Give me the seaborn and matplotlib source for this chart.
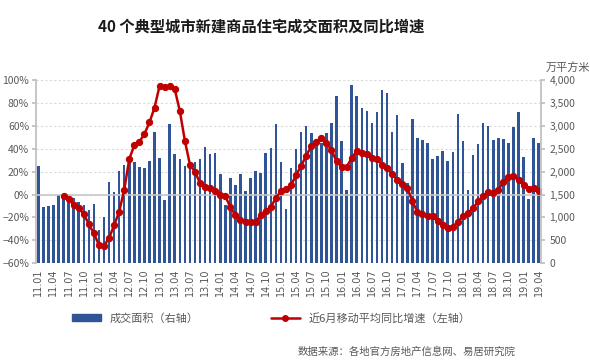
import matplotlib.pyplot as plt
import matplotlib.ticker as mticker
from matplotlib.lines import Line2D
from matplotlib.patches import Patch
import pandas as pd
import seaborn as sns

# 月份 2011.01 - 2019.04
months = [f"{y:02d}.{m:02d}" for y in range(11, 20) for m in range(1, 13)][:100]

# 成交面积（万平方米，右轴）
area = [2125, 1225, 1240, 1275, 1500, 1490, 1430, 1420, 1330, 1272,
        1163, 1287, 720, 1018, 1767, 1549, 2021, 2150, 2200, 2200,
        2110, 2090, 2232, 2872, 2290, 1381, 3039, 2377, 2280, 2123,
        2196, 2200, 2270, 2530, 2377, 2414, 1941, 1272, 1850, 1700,
        1948, 1585, 1854, 2005, 1970, 2414, 2508, 3032, 2217, 1190,
        2087, 2486, 2857, 2995, 2850, 2704, 2617, 2835, 3068, 3657,
        2668, 1600, 3889, 3657, 3395, 3325, 3053, 3293, 3780, 3708,
        2872, 3235, 2181, 1759, 3141, 2726, 2683, 2617, 2268, 2348,
        2450, 2239, 2435, 3250, 2668, 1600, 2363, 2595, 3068, 2995,
        2690, 2741, 2704, 2617, 2966, 3293, 2326, 1396, 2726, 2632]

# 近6月移动平均同比增速（%，左轴）
growth = [None, None, None, None, None, -1, -4, -9, -12, -17,
          -26, -34, -44, -45, -38, -27, -15, 4, 31, 43,
          46, 53, 63, 76, 95, 94, 95, 92, 73, 47,
          26, 20, 10, 7, 6, 3, 0, -1.5, -11, -18,
          -22, -24, -24, -24, -18, -14, -11, -3, 3, 5,
          8, 17, 25, 34, 42, 46, 49, 45, 39, 29,
          24, 24, 32, 38, 36, 35, 32, 31, 26, 23,
          18, 13, 9, 6, -6, -15, -17, -19, -19, -23,
          -27, -29, -28, -24, -19, -16, -12, -6, -1, 2,
          1, 4, 11, 15, 16, 13, 8, 5, 6, 3]

sns.set_theme(style='white')
plt.rcParams['font.family'] = ['Noto Sans CJK SC', 'DejaVu Sans']
grey = '#595959'
blue = '#2F5597'
red = '#C00000'

df = pd.DataFrame({'month': months, 'area': area,
                   'growth': pd.to_numeric(pd.Series(growth), errors='coerce') / 100})
df['pos'] = range(len(df))

fig = plt.figure(figsize=(5.9, 3.64), dpi=100)
ax = fig.add_axes([0.061, 0.277, 0.856, 0.503])

sns.barplot(data=df, x='month', y='area', color=blue, saturation=1,
            width=0.5, linewidth=0, ax=ax)
ax2 = ax.twinx()

ax.set_ylim(0, 4000)
ax.set_xlim(-0.45, 99.45)
ax.set_yticks(range(0, 4001, 500))
ax.yaxis.set_major_formatter(mticker.StrMethodFormatter('{x:,.0f}'))
ax.set_xlabel('')
ax.set_ylabel('')
ax.set_axisbelow(True)
ax.grid(axis='y', color='#D9D9D9', linestyle=(0, (2, 2)), linewidth=0.8)
ax.set_xticks(range(0, 100, 3))
ax.set_xticklabels(months[::3], rotation=90, fontsize=7, color=grey,
                   family='DejaVu Sans')
ax.yaxis.set_ticks_position('right')
ax.tick_params(axis='y', right=True, left=False, labelright=True, labelleft=False,
               length=3, color='#BFBFBF', labelsize=7.5, labelcolor=grey, pad=3)
ax.tick_params(axis='x', length=0, pad=4)
for s in ['top', 'bottom', 'left', 'right']:
    ax.spines[s].set_visible(False)

ax2.axhline(0, color='#C8C8C8', linewidth=1.2, zorder=0)
sns.lineplot(data=df.dropna(), x='pos', y='growth', ax=ax2, color=red,
             linewidth=1.8, marker='o', markersize=4.5, markeredgecolor=red)
ax2.set_ylim(-0.6, 1.0)
ax2.set_yticks([-0.6, -0.4, -0.2, 0, 0.2, 0.4, 0.6, 0.8, 1.0])
ax2.yaxis.set_major_formatter(mticker.PercentFormatter(1.0, decimals=0))
ax2.yaxis.set_ticks_position('left')
ax2.set_xlabel('')
ax2.set_ylabel('')
ax2.tick_params(axis='y', left=True, right=False, labelleft=True, labelright=False,
                length=3, color='#BFBFBF', labelsize=7.5, labelcolor=grey, pad=2)
ax2.spines['top'].set_visible(False)
ax2.spines['bottom'].set_visible(False)
ax2.spines['left'].set_color('#BFBFBF')
ax2.spines['right'].set_color('#BFBFBF')

fig.text(0.443, 0.928, '40 个典型城市新建商品住宅成交面积及同比增速',
         ha='center', va='center', fontsize=11, weight='bold', color='#1a1a1a')
fig.text(0.962, 0.815, '万平方米', ha='center', va='center', fontsize=8, color=grey)

handles = [Patch(facecolor=blue, edgecolor=blue),
           Line2D([0], [0], color=red, lw=1.8, marker='o', markersize=4)]
labels = ['成交面积（右轴）', '近6月移动平均同比增速（左轴）']
fig.legend(handles, labels, loc='center left', bbox_to_anchor=(0.105, 0.126),
           ncol=2, frameon=False, fontsize=8, handlelength=2.6, handleheight=0.5,
           columnspacing=6.5, labelcolor=grey)

fig.text(0.873, 0.033, '数据来源：各地官方房地产信息网、易居研究院',
         ha='right', va='center', fontsize=7.5, color=grey)

fig.savefig('out.png', dpi=100)
